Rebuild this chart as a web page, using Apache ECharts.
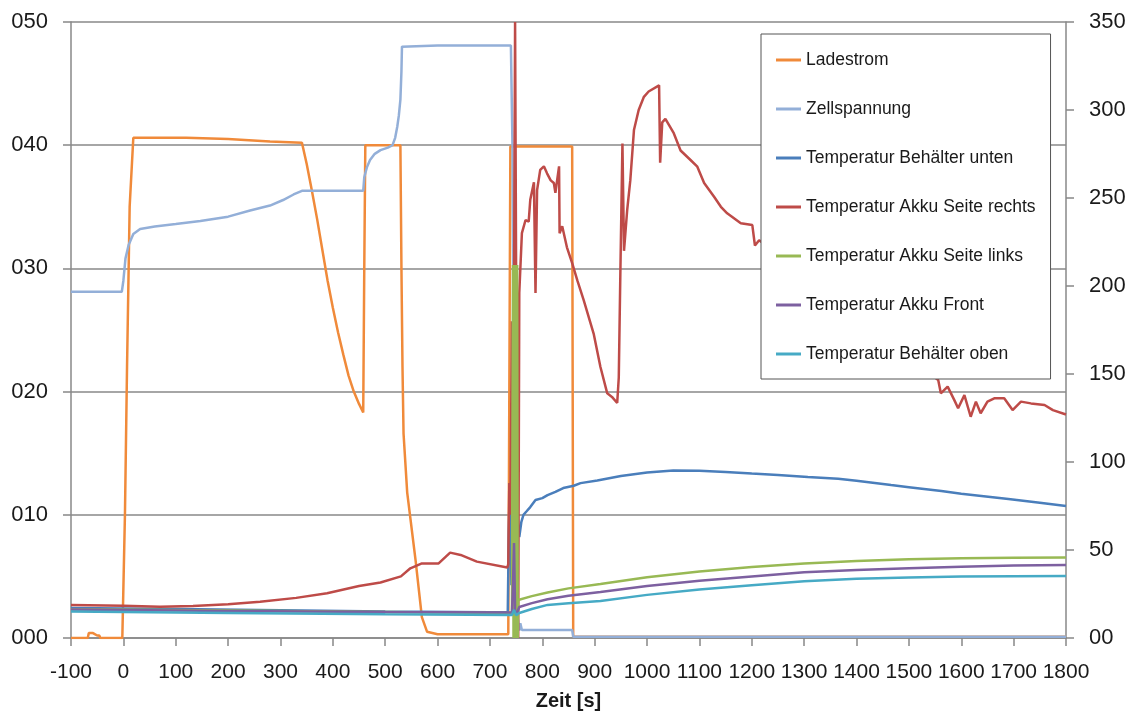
<!DOCTYPE html>
<html>
<head>
<meta charset="utf-8">
<script src="https://cdn.jsdelivr.net/npm/echarts@6/dist/echarts.min.js"></script>
<style>
  html, body { margin: 0; padding: 0; background: #fff; }
  #chart { width: 1133px; height: 716px; }
</style>
</head>
<body>
<div id="chart"></div>
<script>
const ladestromT = [-100, -68, -66, -58, -50, -46, -44, -2, 3, 7, 12, 19, 60, 120, 200, 280, 341, 350, 360, 370, 380, 390, 400, 410, 420, 430, 440, 450, 458, 460, 462, 500, 529, 531, 533, 535, 542, 558, 570, 580, 600, 650, 700, 735, 737, 739, 757, 800, 857, 859, 1000, 1200, 1400, 1600, 1800]
const ladestrom = [0, 0, 0.4, 0.4, 0.2, 0.2, 0, 0, 10, 22, 35, 40.6, 40.6, 40.6, 40.5, 40.3, 40.2, 38.5, 36.3, 34.0, 31.5, 29.0, 26.8, 24.8, 23.0, 21.3, 20.0, 19.0, 18.3, 30, 40, 40, 40, 30, 22, 16.6, 11.8, 6.3, 1.7, 0.5, 0.3, 0.3, 0.3, 0.3, 20, 39.9, 39.9, 39.9, 39.9, 0.1, 0.1, 0.1, 0.1, 0.1, 0.1]

const zellspannungT = [-100, -3, 0, 4, 10, 19, 32, 60, 100, 147, 200, 242, 280, 305, 325, 341, 400, 458, 460, 465, 471, 480, 491, 505, 514, 519, 523, 526, 529, 531, 532, 600, 700, 740, 743, 745, 748, 752, 756, 758, 761, 800, 857, 859, 1000, 1200, 1400, 1600, 1800]
const zellspannung = [28.1, 28.1, 29.0, 30.8, 31.9, 32.8, 33.2, 33.4, 33.6, 33.85, 34.2, 34.7, 35.1, 35.55, 36.0, 36.3, 36.3, 36.3, 37.4, 38.2, 38.8, 39.3, 39.6, 39.8, 40.0, 40.6, 41.5, 42.4, 43.7, 46, 48.0, 48.1, 48.1, 48.1, 40, 25, 8, 2, 0.6, 1.2, 0.65, 0.65, 0.65, 0.1, 0.1, 0.1, 0.1, 0.1, 0.1]

const behaelterUntenT = [-100, 100, 300, 500, 700, 734, 736, 738, 741, 744, 748, 752, 754, 756, 760, 764, 770, 777, 787, 800, 810, 825, 840, 860, 873, 905, 950, 1000, 1050, 1100, 1150, 1200, 1250, 1307, 1365, 1400, 1466, 1500, 1562, 1600, 1690, 1750, 1800]
const behaelterUnten = [17.0, 16.5, 15.8, 15.0, 14.6, 14.6, 60, 88, 30, 62, 20, 72, 71.6, 57.4, 66, 70, 72, 74.4, 78.4, 79.5, 81.2, 83, 85.2, 86.5, 88, 89.5, 92, 94, 95.2, 95, 94.3, 93.4, 92.6, 91.5, 90.5, 89.3, 86.9, 85.7, 83.5, 82, 79, 76.8, 75]

const akkuRechtsT = [-100, 0, 70, 133, 200, 261, 330, 389, 450, 491, 530, 548, 570, 602, 624, 644, 675, 733, 735, 737, 739, 742, 745, 748, 750, 752, 754, 756, 761, 768, 774, 777, 784, 787, 790, 796, 803, 809, 816, 822, 825, 832, 833, 838, 847, 857, 867, 879, 898, 911, 924, 933, 943, 946, 949, 953, 956, 962, 968, 975, 984, 994, 1003, 1023, 1025, 1029, 1035, 1051, 1064, 1083, 1096, 1109, 1128, 1141, 1153, 1179, 1201, 1206, 1214, 1250, 1300, 1350, 1400, 1450, 1500, 1540, 1556, 1561, 1574, 1587, 1594, 1606, 1618, 1628, 1637, 1650, 1663, 1682, 1698, 1714, 1733, 1759, 1775, 1800]
const akkuRechts = [18.7, 18.3, 17.8, 18.2, 19.2, 20.6, 22.8, 25.4, 29.5, 31.5, 35.0, 39.6, 42.4, 42.4, 48.5, 47.2, 43.4, 40, 42, 88, 70, 180, 120, 350, 350, 60, 0, 196, 230, 237.5, 236.6, 249, 259, 196, 254.5, 266, 268, 264, 260, 258.5, 253, 268, 230, 234, 222, 213, 203, 192, 173, 154, 139, 137, 133.5, 148, 207, 281, 220, 243, 260, 288.6, 300, 307.5, 310.5, 314, 270, 293, 295, 286.8, 277, 271.6, 267.8, 258.5, 250.7, 245, 241.3, 235.6, 234.6, 223, 226, 218, 207, 195, 183, 171, 160, 150, 146.6, 139, 142.8, 135, 130.5, 138, 125.7, 134.3, 127.7, 134.3, 136.2, 136.2, 129.5, 134.3, 133.3, 132.4, 129.5, 127]

const akkuLinksT = [-100, 200, 500, 742, 744, 745, 746, 747, 748, 749, 750, 751, 752, 753, 754, 756, 780, 810, 850, 911, 1000, 1100, 1200, 1300, 1400, 1500, 1600, 1700, 1800]
const akkuLinks = [16.3, 15.6, 14.8, 14.2, 212, 0, 212, 0, 212, 0, 212, 0, 212, 0, 21.6, 21.6, 23.8, 25.8, 28.2, 30.7, 34.5, 37.8, 40.3, 42.3, 43.8, 44.8, 45.3, 45.6, 45.7]

const akkuFrontT = [-100, 200, 500, 742, 744, 746, 748, 752, 756, 780, 810, 850, 911, 1000, 1100, 1200, 1300, 1400, 1500, 1600, 1700, 1800]
const akkuFront = [16.2, 15.4, 14.8, 14.5, 30, 54, 15, 14.5, 17.6, 19.8, 22, 24, 26.1, 29.5, 32.5, 35, 37.3, 38.7, 39.7, 40.5, 41.2, 41.5]

const behaelterObenT = [-100, 200, 500, 742, 746, 750, 756, 780, 810, 850, 911, 1000, 1100, 1200, 1300, 1400, 1500, 1600, 1700, 1800]
const behaelterOben = [15.0, 14.2, 13.5, 13.1, 16, 13, 14.2, 16.5, 18.8, 19.8, 21, 24.5, 27.5, 30, 32.2, 33.6, 34.4, 34.9, 35.1, 35.2]

const font = "'Liberation Sans', Arial, sans-serif"
const textColor = '#1a1a1a'
const axisGray = '#888888'

function pairs (t, v) {
  return t.map((x, i) => [x, v[i]])
}

function line (name, t, v, color, axis) {
  return {
    name: name,
    type: 'line',
    yAxisIndex: axis,
    data: pairs(t, v),
    showSymbol: false,
    symbol: 'none',
    lineStyle: { color: color, width: 2.5 },
    itemStyle: { color: color }
  }
}

const chart = echarts.init(document.getElementById('chart'))
const option = {
  animation: false,
  backgroundColor: '#fff',
  grid: { left: 71, right: 67, top: 22, bottom: 78 },
  legend: {
    orient: 'vertical',
    left: 761,
    top: 34,
    padding: [17, 15, 16, 15],
    itemGap: 31,
    itemWidth: 25,
    itemHeight: 3,
    icon: 'rect',
    backgroundColor: '#fff',
    borderColor: '#555',
    borderWidth: 1,
    textStyle: { fontFamily: font, fontSize: 17.5, color: textColor }
  },
  xAxis: {
    type: 'value',
    min: -100,
    max: 1800,
    interval: 100,
    name: 'Zeit [s]',
    nameLocation: 'middle',
    nameGap: 53,
    nameTextStyle: { fontFamily: font, fontSize: 20, fontWeight: 'bold', color: textColor },
    axisLine: { onZero: false, lineStyle: { color: axisGray, width: 1.5 } },
    axisTick: { length: 8, lineStyle: { color: axisGray, width: 1.5 } },
    axisLabel: {
      fontFamily: font, fontSize: 21, color: textColor, margin: 24,
      showMinLabel: true, showMaxLabel: true,
      formatter: v => String(v)
    },
    splitLine: { show: false }
  },
  yAxis: [{
    type: 'value',
    min: 0,
    max: 50,
    interval: 10,
    axisLine: { show: true, onZero: false, lineStyle: { color: axisGray, width: 1.5 } },
    axisTick: { show: true, length: 8, lineStyle: { color: axisGray, width: 1.5 } },
    axisLabel: {
      fontFamily: font, fontSize: 22, color: textColor, margin: 23,
      formatter: v => String(v).padStart(3, '0')
    },
    splitLine: { lineStyle: { color: axisGray, width: 1.5 } }
  }, {
    type: 'value',
    min: 0,
    max: 350,
    interval: 50,
    position: 'right',
    axisLine: { show: true, onZero: false, lineStyle: { color: axisGray, width: 1.5 } },
    axisTick: { show: true, length: 8, lineStyle: { color: axisGray, width: 1.5 } },
    axisLabel: {
      fontFamily: font, fontSize: 22, color: textColor, margin: 23,
      formatter: v => String(v).padStart(2, '0')
    },
    splitLine: { show: false }
  }],
  series: [
    line('Ladestrom', ladestromT, ladestrom, '#f08a3a', 0),
    line('Zellspannung', zellspannungT, zellspannung, '#93afd8', 0),
    line('Temperatur Behälter unten', behaelterUntenT, behaelterUnten, '#4a7ebb', 1),
    line('Temperatur Akku Seite rechts', akkuRechtsT, akkuRechts, '#be4b48', 1),
    line('Temperatur Akku Seite links', akkuLinksT, akkuLinks, '#98b954', 1),
    line('Temperatur Akku Front', akkuFrontT, akkuFront, '#7d60a0', 1),
    line('Temperatur Behälter oben', behaelterObenT, behaelterOben, '#46aac5', 1)
  ]
}
chart.setOption(option)
</script>
</body>
</html>
